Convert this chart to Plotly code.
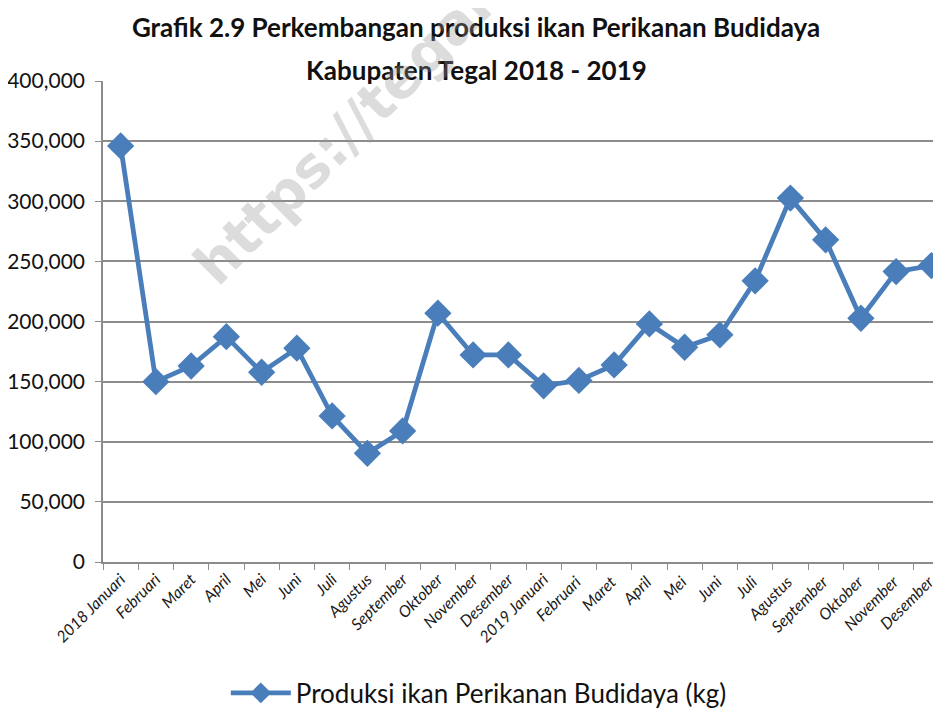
import plotly.graph_objects as go

categories = ["2018 Januari", "Februari", "Maret", "April", "Mei", "Juni", "Juli", "Agustus",
              "September", "Oktober", "November", "Desember",
              "2019 Januari", "Februari ", "Maret ", "April ", "Mei ", "Juni ", "Juli ", "Agustus ",
              "September ", "Oktober ", "November ", "Desember "]
values = [346000, 150000, 163000, 187400, 157800, 177800, 121500, 90400,
          109000, 206900, 172200, 172200,
          146500, 151000, 163900, 198000, 178600, 188900, 233800, 302600,
          267900, 202700, 241500, 246500]
series_name = "Produksi ikan Perikanan Budidaya (kg)"
title_line1 = "Grafik 2.9 Perkembangan produksi ikan Perikanan Budidaya"
title_line2 = "Kabupaten Tegal 2018 - 2019"
watermark = "https://tegalk"

BLUE = "#4A7EBB"
GRID = "#8C8C8C"
FONT = "Lato"
W, H = 941, 715
# the page body adds an 8px offset; figure coordinates below compensate for it
ML, MT, MB = 95, 73, 161
PH = H - MT - MB

fig = go.Figure()
fig.add_trace(go.Scatter(
    x=categories, y=values, mode="lines+markers", name=series_name,
    line=dict(color=BLUE, width=4.8),
    marker=dict(symbol="diamond", size=21, color=BLUE),
))

fig.update_layout(
    width=W, height=H,
    paper_bgcolor="white", plot_bgcolor="white",
    margin=dict(l=ML, r=0, t=MT, b=MB, autoexpand=False),
    title=dict(text=title_line1, x=(476 - 8) / W, xanchor="center",
               yref="container", y=1 - 20 / H, yanchor="middle",
               font=dict(family=FONT, size=26, color="#111111", weight="bold")),
    showlegend=True,
    legend=dict(orientation="h", x=(426 - 8) / W, xanchor="center", yref="container",
                y=1 - 685 / H, yanchor="middle",
                font=dict(family=FONT, size=26, color="#111111"),
                itemwidth=60, bgcolor="rgba(0,0,0,0)"),
    xaxis=dict(type="category", range=[-0.5, 23.5], tickson="boundaries", ticks="outside",
               ticklen=6, tickcolor=GRID, showline=True, linecolor=GRID, linewidth=1.5,
               showgrid=False, tickangle=-45, automargin=False,
               tickfont=dict(family=FONT, size=16, color="#1a1a1a", style="italic")),
    yaxis=dict(range=[0, 400000], dtick=50000, tickformat=",d", showgrid=True, gridcolor=GRID,
               gridwidth=1.5, zeroline=False, showline=True, linecolor=GRID, linewidth=1.5,
               ticks="outside", ticklen=6, tickcolor=GRID, automargin=False,
               ticklabelstandoff=6,
               tickfont=dict(family=FONT, size=21, color="#111111")),
)

fig.add_annotation(text=title_line2, xref="paper", yref="paper",
                   x=(476 - 8 - ML) / (W - ML), y=(H - MB - 62) / PH,
                   xanchor="center", yanchor="middle", showarrow=False,
                   font=dict(family=FONT, size=26, color="#111111", weight="bold"))

fig.add_annotation(text=watermark, xref="paper", yref="paper", x=0.30, y=0.915,
                   xanchor="center", yanchor="middle",
                   showarrow=False, textangle=-45,
                   font=dict(family="DejaVu Sans", size=56, color="rgba(150,150,150,0.33)", weight="bold"))

fig.write_html("out.html")
